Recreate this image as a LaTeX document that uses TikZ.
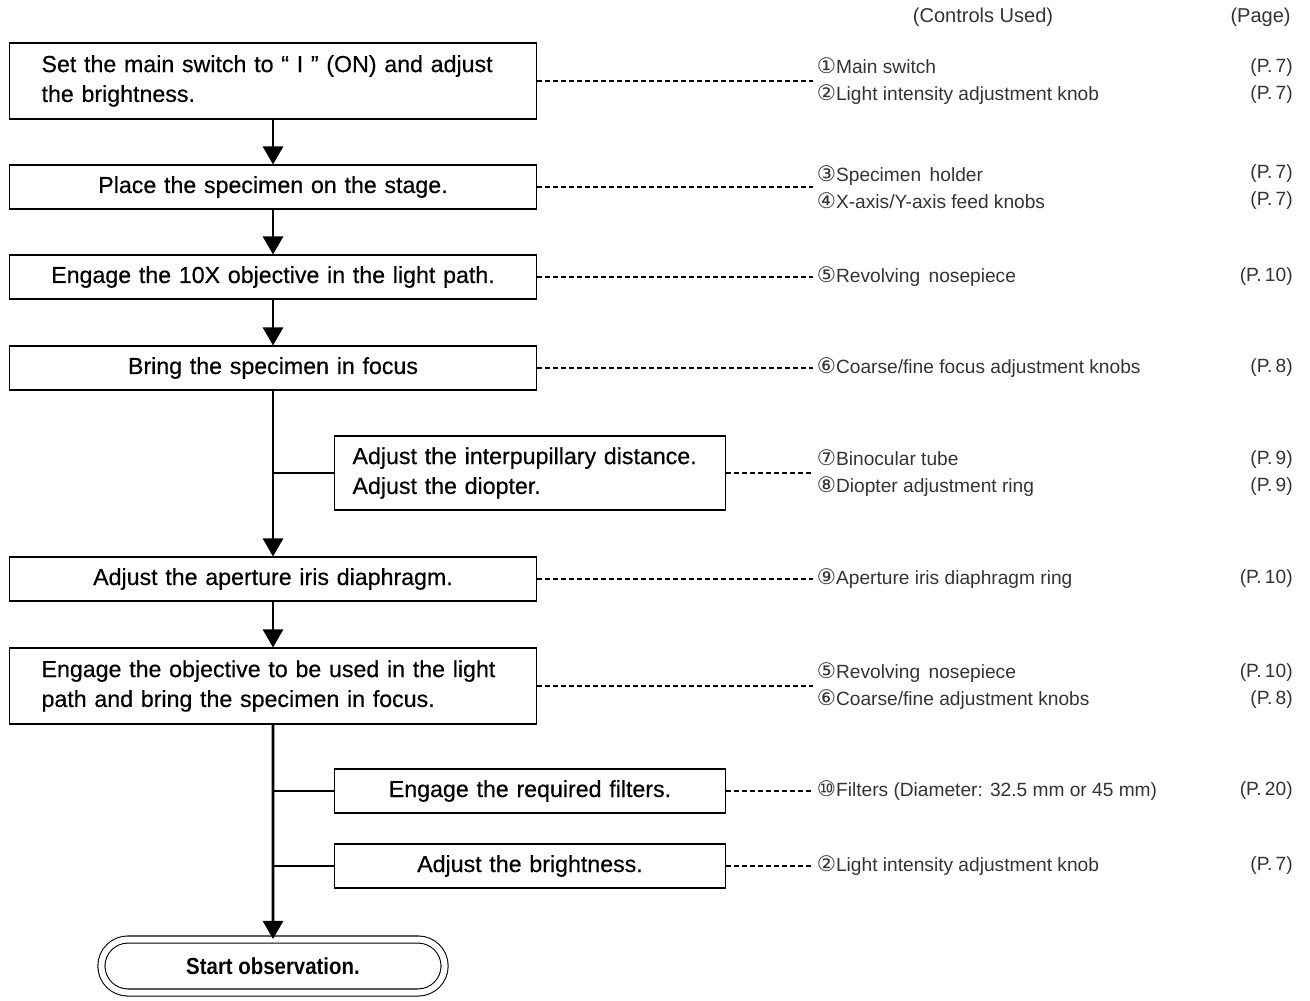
\documentclass[tikz,border=0pt]{standalone}
\usepackage{fontspec}
\setmainfont{Liberation Sans}
\newfontfamily\numfont{DejaVu Sans}
\newfontfamily\stepfont{Liberation Sans}[FakeBold=0.4]
\newfontfamily\endfont{Liberation Sans}[FakeStretch=0.88]
\usetikzlibrary{arrows.meta, positioning, shapes.misc, calc}

\newcommand{\cnum}[1]{{\numfont\fontsize{12.2}{12}\selectfont #1}}
\newcommand{\ctlfont}{\fontsize{10.9}{15.4}\selectfont}

\tikzset{
  stepbox/.style={draw, line width=0.6pt, text width=9.26cm, inner xsep=0.64cm,
    inner ysep=0pt, minimum height=0.88cm, align=center,
    font=\stepfont\fontsize{13.2}{17}\selectfont},
  sidebox/.style={stepbox, text width=7.1cm, inner xsep=0.36cm},
  endbox/.style={draw, double, double distance=0.12cm, line width=0.6pt,
    rounded rectangle, minimum width=7.1cm, minimum height=1.06cm,
    font=\endfont\fontsize{13.2}{16}\selectfont\bfseries},
  flow/.style={line width=1.6pt, -{Triangle[length=0.36cm, width=0.4cm]}},
  trunk/.style={line width=1.6pt},
  link/.style={dashed, dash pattern=on 0.1cm off 0.06cm, line width=0.6pt},
  ctl/.style={anchor=west, inner xsep=2pt, align=left, text=black!80, font=\ctlfont},
  pg/.style={anchor=east, inner xsep=0pt, align=right, text=black!80, font=\ctlfont}
}

\begin{document}
\begin{tikzpicture}[x=0.02cm, y=-0.02cm]
\useasboundingbox (0,0) rectangle (1310,1000);

% Column heads
\node[text=black!80, font=\fontsize{11.4}{14}\selectfont] (headctl) at (983,17) {(Controls Used)};
\node[pg, font=\fontsize{11.4}{14}\selectfont] (headpg) at (1291,17) {(Page)};

% Main steps
\node[stepbox, align=left, minimum height=1.52cm] (set) at (273,81)
  {Set the main switch to “ I ” (ON) and adjust\\the brightness.};
\node[stepbox] (place) at (273,187) {Place the specimen on the stage.};
\node[stepbox] (engage) at (273,277) {Engage the 10X objective in the light path.};
\node[stepbox] (focus) at (273,368) {Bring the specimen in focus};
\node[stepbox] (iris) at (273,579) {Adjust the aperture iris diaphragm.};
\node[stepbox, align=left, minimum height=1.52cm] (objective) at (273,686)
  {Engage the objective to be used in the light\\path and bring the specimen in focus.};

% Side steps
\node[sidebox, align=left, minimum height=1.48cm] (ipd) at (530,473)
  {Adjust the interpupillary distance.\\Adjust the diopter.};
\node[sidebox] (filters) at (530,791) {Engage the required filters.};
\node[sidebox] (bright) at (530,866) {Adjust the brightness.};

% End
\node[endbox] (start) at (273,966) {Start observation.};

% Controls used
\node[ctl] (setctl) at (813,81) {\cnum{①}Main switch\\\cnum{②}Light intensity adjustment knob};
\node[ctl] (placectl) at (813,187) {\cnum{③}Specimen\ \,holder\\\cnum{④}X-axis/Y-axis feed knobs};
\node[ctl] (engagectl) at (813,277) {\cnum{⑤}Revolving\ \,nosepiece};
\node[ctl] (focusctl) at (813,368) {\cnum{⑥}Coarse/fine focus adjustment knobs};
\node[ctl] (ipdctl) at (813,473) {\cnum{⑦}Binocular tube\\\cnum{⑧}Diopter adjustment ring};
\node[ctl] (irisctl) at (813,579) {\cnum{⑨}Aperture iris diaphragm ring};
\node[ctl] (objectivectl) at (813,686) {\cnum{⑤}Revolving\ \,nosepiece\\\cnum{⑥}Coarse/fine adjustment knobs};
\node[ctl] (filtersctl) at (813,791) {\cnum{⑩}Filters (Diameter: 32.5 mm or 45 mm)};
\node[ctl] (brightctl) at (813,866) {\cnum{②}Light intensity adjustment knob};

% Pages
\node[pg] (setpg) at (1293,81) {(P.\,7)\\(P.\,7)};
\node[pg] (placepg) at (1293,187) {(P.\,7)\\(P.\,7)};
\node[pg] (engagepg) at (1293,277) {(P.\,10)};
\node[pg] (focuspg) at (1293,368) {(P.\,8)};
\node[pg] (ipdpg) at (1293,473) {(P.\,9)\\(P.\,9)};
\node[pg] (irispg) at (1293,579) {(P.\,10)};
\node[pg] (objectivepg) at (1293,686) {(P.\,10)\\(P.\,8)};
\node[pg] (filterspg) at (1293,791) {(P.\,20)};
\node[pg] (brightpg) at (1293,866) {(P.\,7)};

% Flow
\foreach \a/\b in {set/place, place/engage, engage/focus, focus/iris, iris/objective, objective/start}
  \draw[flow] (\a) -- (\b);
\foreach \s/\m in {ipd/focus, filters/objective, bright/objective}
  \draw[trunk] (\s.west) -- (\s.west -| \m.south);

% Dashed links
\foreach \b in {set, place, engage, focus, ipd, iris, objective, filters, bright}
  \draw[link] (\b.east) -- (\b.east -| \b ctl.west);
\end{tikzpicture}
\end{document}
